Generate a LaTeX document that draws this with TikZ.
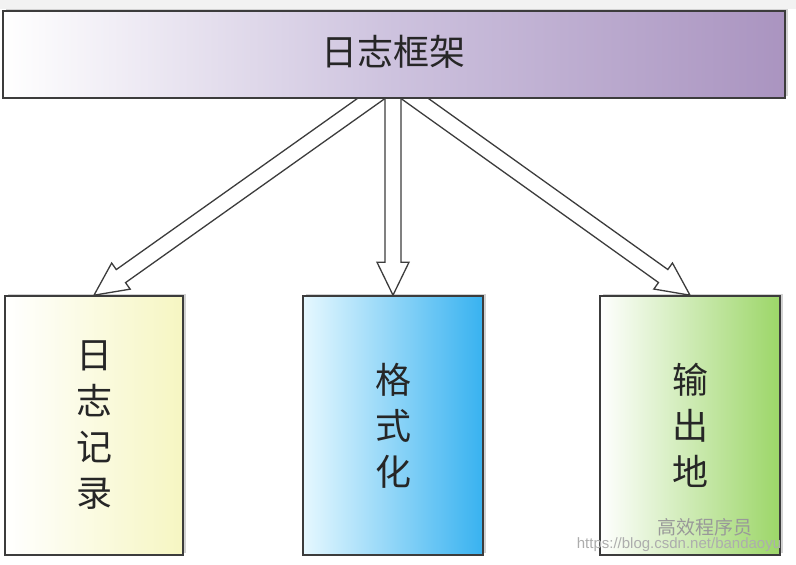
\documentclass[tikz,border=0pt]{standalone}
\usepackage{fontspec}
\newfontfamily\cjk{Noto Sans CJK SC}
\setsansfont{Liberation Sans}
\usetikzlibrary{calc,shadows}
\definecolor{boxline}{HTML}{3C3C3C}
\definecolor{topright}{HTML}{AA94C0}
\definecolor{topmid}{HTML}{CDC2DE}
\definecolor{yel}{HTML}{F6F6C2}
\definecolor{blu}{HTML}{38B2F0}
\definecolor{blul}{HTML}{E6F8FF}
\definecolor{grn}{HTML}{9CD668}
\tikzset{
  boxbase/.style={draw=boxline, line width=1.6pt, inner sep=0pt,
    drop shadow={shadow xshift=2.5pt, shadow yshift=2.5pt, opacity=0.35}},
  arrowstyle/.style={draw=boxline, fill=white, line width=1.3pt, line join=miter},
  bigtxt/.style={font=\cjk\fontsize{36}{46}\selectfont, text=black!85},
  watermark/.style={text=black!40}
}
\newcommand\hollowarrow[2]{%
  \path ($(#2)!33pt!(#1)$) coordinate (hh);
  \filldraw[arrowstyle] ($(#1)!8pt!90:(#2)$) -- ($(hh)!8pt!90:(#2)$) -- ($(hh)!16pt!90:(#2)$) -- (#2)
    -- ($(hh)!16pt!-90:(#2)$) -- ($(hh)!8pt!-90:(#2)$) -- ($(#1)!8pt!-90:(#2)$) -- cycle;}
\begin{document}
\begin{tikzpicture}[x=1pt,y=-1pt]
\useasboundingbox (0,0) rectangle (796,565);
\fill[white] (0,0) rectangle (796,565);
\fill[black!5] (0,0) rectangle (796,9);
% boxes
\node[boxbase, minimum width=178, minimum height=259, left color=white, right color=yel,
  bigtxt, align=center] (log) at (94,425.5) {日\\志\\记\\录};
\node[boxbase, minimum width=180, minimum height=259, left color=blul, right color=blu,
  bigtxt, align=center] (fmt) at (393,425.5) {格\\式\\化};
\node[boxbase, minimum width=180, minimum height=259, left color=white, right color=grn,
  bigtxt, align=center] (out) at (690,425.5) {输\\出\\地};
% arrows
\coordinate (sl) at (386,88);
\coordinate (sr) at (400,88);
\coordinate (sm) at (393,88);
\hollowarrow{sl}{log.north}
\hollowarrow{sr}{out.north}
\hollowarrow{sm}{fmt.north}
% top box
\node[boxbase, minimum width=782, minimum height=87, left color=white, right color=topright,
  middle color=topmid] (top) at (394,54.5) {};
\node[bigtxt] (toptxt) at (393,52) {日志框架};
% watermark
\node[watermark, font=\cjk\fontsize{19}{19}\selectfont] (wm1) at (705,527) {高效程序员};
\node[watermark, text=black!32, font=\sffamily\fontsize{15}{15}\selectfont] (wm2) at (679,545) {https://blog.csdn.net/bandaoyu};
\end{tikzpicture}
\end{document}
